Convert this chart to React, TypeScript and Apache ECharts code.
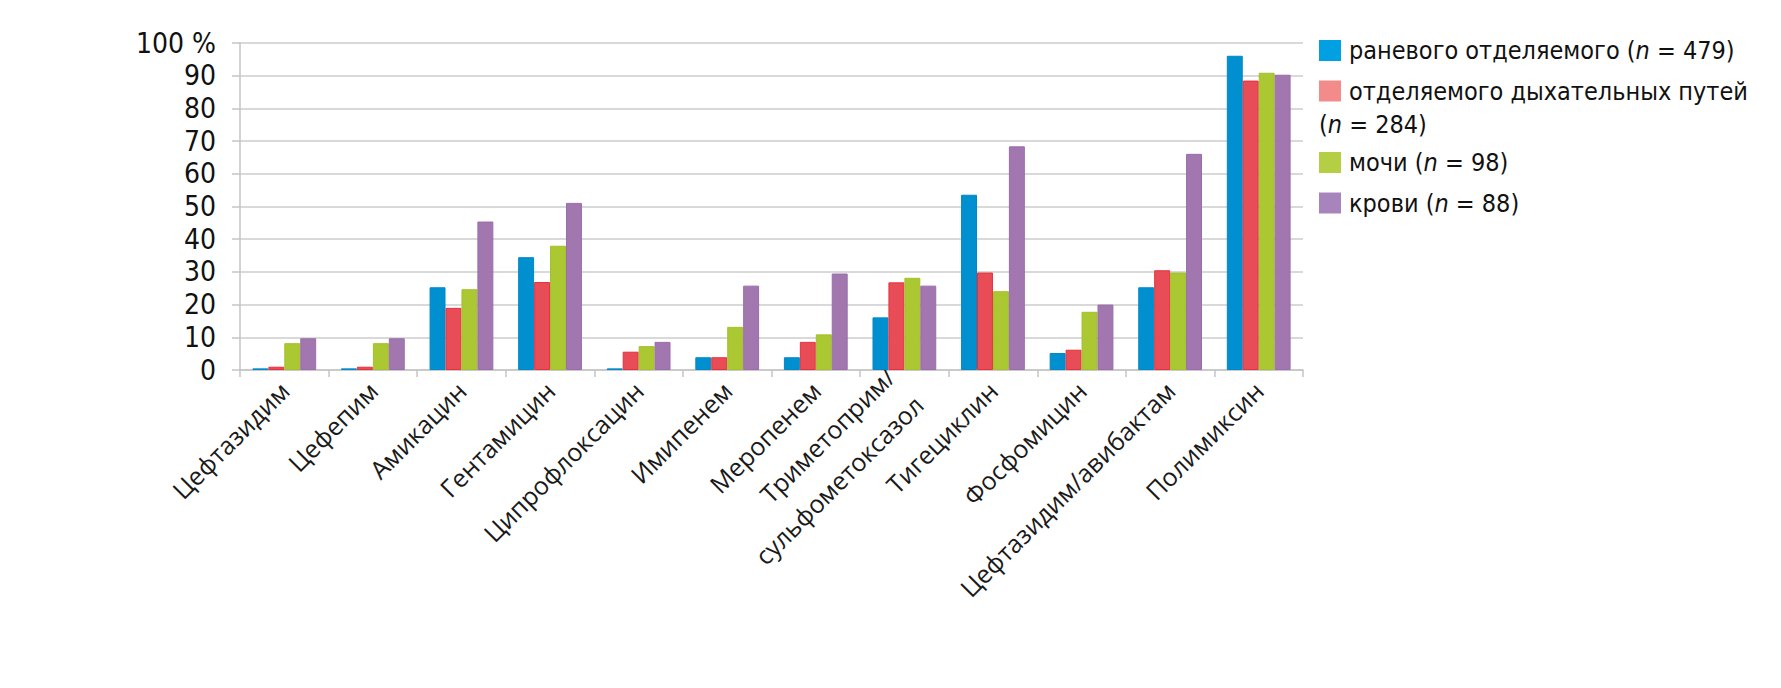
import React, { useEffect, useRef } from "react";
import * as echarts from "echarts";

const categories = [
  "Цефтазидим",
  "Цефепим",
  "Амикацин",
  "Гентамицин",
  "Ципрофлоксацин",
  "Имипенем",
  "Меропенем",
  "Триметоприм/\nсульфометоксазол",
  "Тигециклин",
  "Фосфомицин",
  "Цефтазидим/авибактам",
  "Полимиксин",
];

const seriesNames = [
  "раневого отделяемого (n = 479)",
  "отделяемого дыхательных путей (n = 284)",
  "мочи (n = 98)",
  "крови (n = 88)",
];

const woundValues = [0.5, 0.5, 25.3, 34.5, 0.5, 3.9, 3.9, 16.1, 53.6, 5.2, 25.3, 96.1];
const respValues = [1, 1, 19, 26.9, 5.6, 3.9, 8.6, 26.8, 29.8, 6.2, 30.5, 88.5];
const urineValues = [8.2, 8.2, 24.7, 38, 7.3, 13.2, 10.9, 28.2, 24.1, 17.8, 29.8, 90.9];
const bloodValues = [9.7, 9.7, 45.4, 51.1, 8.6, 25.8, 29.5, 25.8, 68.4, 20, 66.1, 90.3];

const yTicks = { min: 0, max: 100, interval: 10 };

const barColors = ["#0090D0", "#E84C56", "#ABC731", "#A277B0"];
const barBorders = ["#0088C8", "#E8303C", "#A3C02A", "#9A6DA8"];
const legendColors = ["#00A0E3", "#F28B8A", "#B5CF45", "#A884BC"];

const condFont = "'Liberation Sans Narrow', 'DejaVu Sans Condensed', Roboto, sans-serif";
const catFont = "'Open Sans', 'Noto Sans', sans-serif";

export default function App() {
  const ref = useRef<HTMLDivElement>(null);

  useEffect(() => {
    if (!ref.current) return;
    const chart = echarts.init(ref.current, undefined, { renderer: "svg" });
    const values = [woundValues, respValues, urineValues, bloodValues];
    const legendText = {
      fontFamily: condFont,
      fontSize: 25,
      color: "#111111",
      lineHeight: 22,
      padding: [0, 0, 0, 3],
      rich: {
        i: { fontFamily: condFont, fontSize: 25, fontStyle: "italic", color: "#111111", lineHeight: 22 },
      },
    };
    const fmt = (name: string) => {
      let n = name;
      if (n.startsWith("отделяемого дыхательных путей")) n = "отделяемого дыхательных путей";
      return n.replace("(n", "({i|n}");
    };
    const legendBase = {
      orient: "vertical",
      left: 1319,
      padding: 0,
      itemWidth: 22,
      itemHeight: 21,
      itemGap: 15.5,
      icon: "rect",
      selectedMode: false,
      textStyle: legendText,
      formatter: fmt,
    };
    chart.setOption({
      animation: false,
      grid: { left: 240, right: 478, top: 43, bottom: 318, containLabel: false },
      legend: [
        {
          ...legendBase,
          top: 38,
          data: [0, 1].map((i) => ({
            name: seriesNames[i],
            itemStyle: { color: legendColors[i], borderWidth: 0 },
          })),
        },
        {
          ...legendBase,
          top: 150,
          data: [2, 3].map((i) => ({
            name: seriesNames[i],
            itemStyle: { color: legendColors[i], borderWidth: 0 },
          })),
        },
      ],
      graphic: [
        {
          type: "text",
          x: 1319,
          y: 124,
          style: {
            text: "({i|n} = 284)",
            fontFamily: condFont,
            fontSize: 25,
            fill: "#111111",
            verticalAlign: "middle",
            rich: {
              i: { fontFamily: condFont, fontSize: 25, fontStyle: "italic", fill: "#111111" },
            },
          },
        },
      ],
      xAxis: {
        type: "category",
        data: categories,
        boundaryGap: true,
        axisLine: { show: true, lineStyle: { color: "#c4c4c4", width: 1.5 } },
        axisTick: { show: true, length: 7, alignWithLabel: false, lineStyle: { color: "#c4c4c4", width: 1.5 } },
        axisLabel: {
          rotate: 45,
          interval: 0,
          margin: 16,
          fontFamily: catFont,
          fontSize: 25,
          color: "#1a1a1a",
          lineHeight: 40,
        },
      },
      yAxis: {
        type: "value",
        min: yTicks.min,
        max: yTicks.max,
        interval: yTicks.interval,
        axisLine: { show: true, lineStyle: { color: "#c4c4c4", width: 1.5 } },
        axisTick: { show: true, length: 8, lineStyle: { color: "#c4c4c4", width: 1.5 } },
        splitLine: { show: true, lineStyle: { color: "#cccccc", width: 1.5 } },
        axisLabel: {
          margin: 24,
          fontFamily: condFont,
          fontSize: 28,
          color: "#111111",
          formatter: (v: number) => (v === 100 ? "100 %" : String(v)),
        },
      },
      series: values.map((vals, i) => ({
        type: "bar",
        name: seriesNames[i],
        data: vals,
        barGap: "0%",
        barCategoryGap: "28%",
        itemStyle: { color: barColors[i], borderColor: barBorders[i], borderWidth: 1 },
      })),
    });
    return () => chart.dispose();
  }, []);

  return (
    <div
      ref={ref}
      style={{ position: "fixed", left: 0, top: 0, width: 1781, height: 688, background: "#ffffff" }}
    />
  );
}
